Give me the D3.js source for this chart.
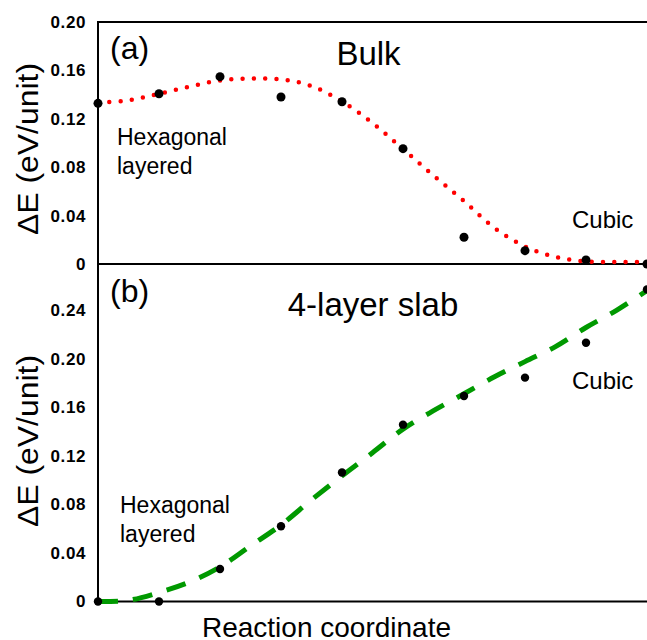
<!DOCTYPE html>
<html>
<head>
<meta charset="utf-8">
<script src="https://cdn.jsdelivr.net/npm/d3@7"></script>
<style>
  body { margin: 0; background: #fff; }
  svg { display: block; font-family: "Liberation Sans", Arial, sans-serif; }
</style>
</head>
<body>
<svg id="chart" width="647" height="640"></svg>
<script>
// reaction-coordinate images (0 = hexagonal layered, 9 = cubic)
var images = [0, 1, 2, 3, 4, 5, 6, 7, 8, 9];
// computed energies, eV/unit
var bulkDFT = [0.1328, 0.1407, 0.1548, 0.1380, 0.1341, 0.0953, 0.0221, 0.0110, 0.0033, 0.0000];
var slabDFT = [0.0000, 0.0000, 0.0268, 0.0620, 0.1062, 0.1456, 0.1692, 0.1843, 0.2130, 0.2570];
// fitted curves, read every half image
var fitX = [0, 0.5, 1, 1.5, 2, 2.5, 3, 3.5, 4, 4.5, 5, 5.5, 6, 6.5, 7, 7.5, 8, 8.5, 9];
var bulkFit = [0.1335, 0.1353, 0.1407, 0.1465, 0.1517, 0.1533, 0.1526, 0.1471, 0.1343, 0.1165,
               0.0950, 0.0731, 0.0521, 0.0298, 0.0145, 0.0058, 0.0021, 0.0017, 0.0017];
var slabFit = [0.0000, 0.0010, 0.0074, 0.0160, 0.0285, 0.0458, 0.0630, 0.0837, 0.1035, 0.1225,
               0.1419, 0.1571, 0.1710, 0.1850, 0.1975, 0.2099, 0.2256, 0.2397, 0.2560];
var bulkTicks = [0, 0.04, 0.08, 0.12, 0.16, 0.20];
var slabTicks = [0, 0.04, 0.08, 0.12, 0.16, 0.20, 0.24];

var svg = d3.select("#chart");
var left = 98, right = 647;

var x = d3.scaleLinear().domain([0, 9]).range([left, right]);
var yTop = d3.scaleLinear().domain([0, 0.20]).range([264, 22]);
var yBot = d3.scaleLinear().domain([0, 0.24]).range([601.5, 310]);

var fmt = function(d) { return d === 0 ? "0" : d3.format(".2f")(d); };

function panel(y, ticks, yTopPx, drawTopBorder) {
  var g = svg.append("g");
  var ax = g.append("g")
    .attr("transform", "translate(" + left + ",0)")
    .call(d3.axisLeft(y).tickValues(ticks).tickFormat(fmt).tickSize(0).tickPadding(12));
  ax.select(".domain").remove();
  ax.selectAll("text")
    .attr("font-size", 17)
    .attr("font-weight", "bold")
    .attr("letter-spacing", 0.6)
    .attr("font-family", "Liberation Sans, Arial, sans-serif")
    .attr("fill", "#000");

  // frame lines
  g.append("line").attr("x1", left).attr("x2", left)
    .attr("y1", yTopPx).attr("y2", y(0))
    .attr("stroke", "#000").attr("stroke-width", 2);
  g.append("line").attr("x1", left).attr("x2", right + 2)
    .attr("y1", y(0)).attr("y2", y(0))
    .attr("stroke", "#000").attr("stroke-width", 2);
  if (drawTopBorder) {
    g.append("line").attr("x1", left - 1).attr("x2", right + 2)
      .attr("y1", yTopPx).attr("y2", yTopPx)
      .attr("stroke", "#000").attr("stroke-width", 2);
  }
  return g;
}

var gTop = panel(yTop, bulkTicks, 22, true);
var gBot = panel(yBot, slabTicks, 264, false);

// fitted curves
var lineTop = d3.line().x(function(d, i) { return x(fitX[i]); })
  .y(function(d) { return yTop(d); }).curve(d3.curveCatmullRom);
var lineBot = d3.line().x(function(d, i) { return x(fitX[i]); })
  .y(function(d) { return yBot(d); }).curve(d3.curveCatmullRom);

gTop.append("path").datum(bulkFit)
  .attr("d", lineTop)
  .attr("fill", "none")
  .attr("stroke", "#ff0000")
  .attr("stroke-width", 4.5)
  .attr("stroke-linecap", "round")
  .attr("stroke-dasharray", "0 11.3")
  .attr("stroke-dashoffset", -11.3);

gBot.append("path").datum(slabFit)
  .attr("d", lineBot)
  .attr("fill", "none")
  .attr("stroke", "#009900")
  .attr("stroke-width", 5)
  .attr("stroke-dasharray", "20 15");

// DFT points
gTop.selectAll("circle").data(bulkDFT).enter().append("circle")
  .attr("cx", function(d, i) { return x(images[i]); })
  .attr("cy", function(d) { return yTop(d); })
  .attr("r", 4.5)
  .attr("fill", "#000");

gBot.selectAll("circle").data(slabDFT).enter().append("circle")
  .attr("cx", function(d, i) { return x(images[i]); })
  .attr("cy", function(d) { return yBot(d); })
  .attr("r", 4.2)
  .attr("fill", "#000");

// labels
function label(txt, px, py, size, anchor) {
  return svg.append("text").text(txt)
    .attr("x", px).attr("y", py)
    .attr("font-size", size)
    .attr("text-anchor", anchor || "start")
    .attr("fill", "#000");
}

label("(a)", 110, 59, 32);
label("Bulk", 368.5, 65, 33, "middle");
label("Hexagonal", 117, 145, 23);
label("layered", 117, 174, 23);
label("Cubic", 572, 228, 24);

label("(b)", 110, 302, 32);
label("4-layer slab", 373, 316, 33, "middle");
label("Hexagonal", 120, 513, 23);
label("layered", 120, 542, 23);
label("Cubic", 572, 389, 24);

label("Reaction coordinate", 326.5, 637, 28, "middle");

svg.append("text").text("ΔE (eV/unit)")
  .attr("transform", "translate(38,149) rotate(-90)")
  .attr("font-size", 30).attr("text-anchor", "middle").attr("fill", "#000")
  .attr("textLength", 172).attr("lengthAdjust", "spacingAndGlyphs");
svg.append("text").text("ΔE (eV/unit)")
  .attr("transform", "translate(38,441) rotate(-90)")
  .attr("font-size", 30).attr("text-anchor", "middle").attr("fill", "#000")
  .attr("textLength", 172).attr("lengthAdjust", "spacingAndGlyphs");
</script>
</body>
</html>
